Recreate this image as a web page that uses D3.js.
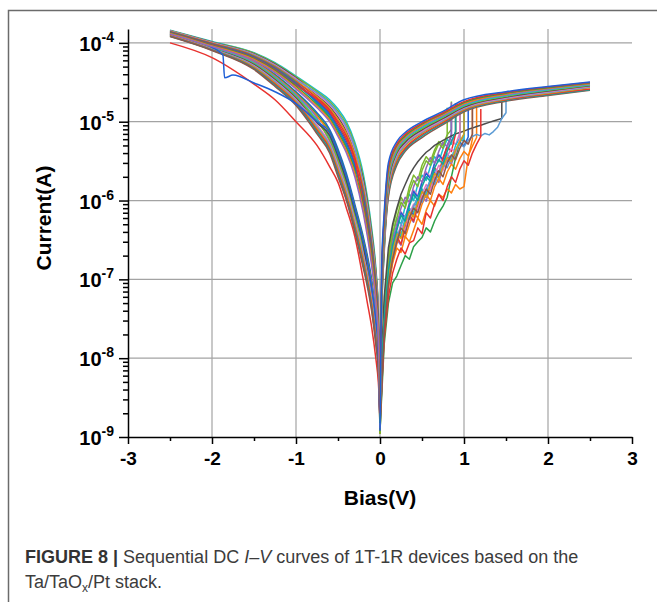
<!DOCTYPE html>
<html>
<head>
<meta charset="utf-8">
<script src="https://cdn.jsdelivr.net/npm/d3@7"></script>
<style>
  body { margin: 0; background: #fff; }
  text { font-family: "Liberation Sans", Arial, sans-serif; }
</style>
</head>
<body>
<script>
const width = 657, height = 602;

// voltage grids (V)
const vPos = [0, 0.02, 0.05, 0.1, 0.2, 0.3, 0.5, 0.75, 1, 1.5, 2, 2.5];
const vNeg = [0, -0.02, -0.05, -0.1, -0.15, -0.2, -0.3, -0.4, -0.5, -0.6, -0.75, -1, -1.25, -1.5, -2, -2.5];
const vHrs = [0, 0.05, 0.1, 0.15, 0.2, 0.25, 0.3, 0.35, 0.4, 0.45, 0.5, 0.55, 0.6, 0.65, 0.7, 0.75,
              0.8, 0.85, 0.9, 0.95, 1.0, 1.05, 1.1, 1.15, 1.2, 1.25, 1.3, 1.35, 1.4, 1.45, 1.5];

const cycleColors = ["#1f5fd6", "#e8322e", "#2ca048", "#ff7f0e", "#9467bd", "#17becf", "#7cb82f",
                     "#4d4d4d", "#e377c2", "#5b9bd5", "#d4a017", "#e8322e", "#13a39a", "#8c564b"];

// LRS, positive sweep back 2.5 V -> 0 (A), on vPos
const lrsPos = [
  [1.2e-9, 1.5e-7, 7e-7, 3.0e-6, 5.6e-6, 7.3e-6, 1.0e-5, 1.35e-5, 1.9e-5, 2.4e-5, 2.8e-5, 3.2e-5],
  [2e-9, 1.2e-7, 6e-7, 2.7e-6, 5.2e-6, 6.9e-6, 9.6e-6, 1.3e-5, 1.8e-5, 2.35e-5, 2.75e-5, 3.15e-5],
  [1.5e-9, 1.1e-7, 5.5e-7, 2.5e-6, 5.0e-6, 6.6e-6, 9.3e-6, 1.27e-5, 1.75e-5, 2.3e-5, 2.7e-5, 3.1e-5],
  [3e-9, 1e-7, 5e-7, 2.3e-6, 4.8e-6, 6.4e-6, 9.0e-6, 1.24e-5, 1.7e-5, 2.25e-5, 2.65e-5, 3.05e-5],
  [1.3e-9, 9e-8, 4.6e-7, 2.1e-6, 4.6e-6, 6.2e-6, 8.8e-6, 1.2e-5, 1.66e-5, 2.2e-5, 2.6e-5, 3.0e-5],
  [2.5e-9, 8e-8, 4.2e-7, 2.0e-6, 4.4e-6, 6.0e-6, 8.5e-6, 1.17e-5, 1.62e-5, 2.15e-5, 2.55e-5, 2.95e-5],
  [1.1e-9, 7e-8, 3.9e-7, 1.85e-6, 4.2e-6, 5.8e-6, 8.2e-6, 1.14e-5, 1.58e-5, 2.1e-5, 2.5e-5, 2.9e-5],
  [4e-9, 6.5e-8, 3.5e-7, 1.7e-6, 4.0e-6, 5.5e-6, 7.9e-6, 1.1e-5, 1.53e-5, 2.05e-5, 2.45e-5, 2.85e-5],
  [1.8e-9, 6e-8, 3.2e-7, 1.6e-6, 3.8e-6, 5.3e-6, 7.6e-6, 1.07e-5, 1.5e-5, 2.0e-5, 2.4e-5, 2.8e-5],
  [1.4e-9, 5.5e-8, 3e-7, 1.5e-6, 3.6e-6, 5.1e-6, 7.4e-6, 1.04e-5, 1.47e-5, 1.97e-5, 2.35e-5, 2.75e-5],
  [2.2e-9, 5e-8, 2.8e-7, 1.4e-6, 3.4e-6, 4.9e-6, 7.2e-6, 1.02e-5, 1.44e-5, 1.94e-5, 2.3e-5, 2.7e-5],
  [1.6e-9, 4.5e-8, 2.6e-7, 1.3e-6, 3.2e-6, 4.6e-6, 6.9e-6, 9.8e-6, 1.4e-5, 1.9e-5, 2.25e-5, 2.6e-5],
  [3.5e-9, 4e-8, 2.4e-7, 1.2e-6, 3.0e-6, 4.4e-6, 6.6e-6, 9.5e-6, 1.37e-5, 1.86e-5, 2.2e-5, 2.55e-5],
  [1.2e-9, 3.5e-8, 2.2e-7, 1.1e-6, 2.8e-6, 4.2e-6, 6.3e-6, 9.2e-6, 1.33e-5, 1.82e-5, 2.15e-5, 2.5e-5]
];

// LRS, negative sweep 0 -> -2.5 V (A), on vNeg
const lrsNeg = [
  [1.5e-9, 4e-8, 1.4e-7, 4.5e-7, 1.1e-6, 2.2e-6, 5.5e-6, 1e-5, 1.45e-5, 1.9e-5, 2.5e-5, 3.8e-5, 5.6e-5, 7.5e-5, 1.04e-4, 1.45e-4],
  [2e-9, 3.8e-8, 1.3e-7, 4.1e-7, 1e-6, 2e-6, 5.1e-6, 9.3e-6, 1.36e-5, 1.8e-5, 2.41e-5, 3.7e-5, 5.5e-5, 7.38e-5, 1.03e-4, 1.44e-4],
  [1.2e-9, 3.6e-8, 1.2e-7, 3.8e-7, 9.2e-7, 1.85e-6, 4.1e-6, 7.6e-6, 1.14e-5, 1.56e-5, 2.16e-5, 3.6e-5, 5.38e-5, 7.26e-5, 1.02e-4, 1.43e-4],
  [2e-9, 3.4e-8, 1.12e-7, 3.5e-7, 8.5e-7, 1.7e-6, 4.4e-6, 8.1e-6, 1.21e-5, 1.64e-5, 2.24e-5, 3.5e-5, 5.26e-5, 7.14e-5, 1.01e-4, 1.42e-4],
  [1.4e-9, 3.2e-8, 1.04e-7, 3.25e-7, 7.8e-7, 1.57e-6, 4.7e-6, 8.7e-6, 1.28e-5, 1.72e-5, 2.32e-5, 3.4e-5, 5.15e-5, 7.02e-5, 1e-4, 1.41e-4],
  [2.5e-9, 3.05e-8, 9.7e-8, 3e-7, 7.2e-7, 1.45e-6, 3.8e-6, 7.1e-6, 1.07e-5, 1.49e-5, 2.08e-5, 3.3e-5, 5.05e-5, 6.9e-5, 9.9e-5, 1.4e-4],
  [1.1e-9, 2.9e-8, 9e-8, 2.8e-7, 6.6e-7, 1.33e-6, 3.5e-6, 6.6e-6, 1e-5, 1.42e-5, 2e-5, 3.22e-5, 4.95e-5, 6.8e-5, 9.8e-5, 1.39e-4],
  [3e-9, 2.75e-8, 8.3e-8, 2.6e-7, 6.1e-7, 1.22e-6, 2.6e-6, 4.9e-6, 7.8e-6, 1.17e-5, 1.72e-5, 3.14e-5, 4.85e-5, 6.7e-5, 9.7e-5, 1.38e-4],
  [1.8e-9, 2.6e-8, 7.7e-8, 2.4e-7, 5.6e-7, 1.12e-6, 3e-6, 5.7e-6, 8.8e-6, 1.29e-5, 1.86e-5, 3.06e-5, 4.75e-5, 6.6e-5, 9.6e-5, 1.37e-4],
  [1.4e-9, 2.5e-8, 7.1e-8, 2.2e-7, 5.1e-7, 1.03e-6, 2.8e-6, 5.3e-6, 8.3e-6, 1.23e-5, 1.79e-5, 2.98e-5, 4.65e-5, 6.5e-5, 9.5e-5, 1.36e-4],
  [2.2e-9, 2.4e-8, 6.5e-8, 2.05e-7, 4.7e-7, 9.4e-7, 3.25e-6, 6.1e-6, 9.4e-6, 1.35e-5, 1.93e-5, 2.9e-5, 4.55e-5, 6.4e-5, 9.4e-5, 1.35e-4],
  [1.6e-9, 2.3e-8, 6e-8, 1.9e-7, 4.3e-7, 8.6e-7, 2.4e-6, 4.6e-6, 7.3e-6, 1.11e-5, 1.65e-5, 2.82e-5, 4.45e-5, 6.3e-5, 9.3e-5, 1.34e-4],
  [3.5e-9, 2.15e-8, 5.5e-8, 1.7e-7, 3.9e-7, 7.8e-7, 2.2e-6, 4.3e-6, 6.9e-6, 1.05e-5, 1.57e-5, 2.7e-5, 4.32e-5, 6.15e-5, 9.15e-5, 1.32e-4],
  [1.2e-9, 2e-8, 5e-8, 1.5e-7, 3.5e-7, 7e-7, 2e-6, 4e-6, 6.5e-6, 1e-5, 1.5e-5, 2.6e-5, 4.2e-5, 6e-5, 9e-5, 1.3e-4]
];

// HRS, negative sweep back -2.5 V -> 0 (A), on vNeg
const hrsNeg = [
  [1.5e-9, 1.5e-8, 3.5e-8, 1e-7, 2e-7, 3.5e-7, 9e-7, 2.2e-6, 4.5e-6, 8e-6, 1.3e-5, 2.4e-5, 4e-5, 6e-5, 9e-5, 1.32e-4],
  [2e-9, 5e-9, 1e-8, 2.5e-8, 5e-8, 1e-7, 3.5e-7, 8e-7, 1.7e-6, 2.7e-6, 5e-6, 1e-5, 1.9e-5, 3e-5, 6.5e-5, 1e-4],
  [1.2e-9, 1.4e-8, 3.3e-8, 9.3e-8, 1.85e-7, 3.25e-7, 8.4e-7, 2.05e-6, 4.2e-6, 7.5e-6, 1.23e-5, 2.33e-5, 3.9e-5, 5.88e-5, 8.9e-5, 1.31e-4],
  [2e-9, 1.33e-8, 3.1e-8, 8.6e-8, 1.72e-7, 3e-7, 7.9e-7, 1.92e-6, 3.9e-6, 7.1e-6, 1.17e-5, 2.26e-5, 3.8e-5, 5.76e-5, 8.8e-5, 1.3e-4],
  [1.4e-9, 1.26e-8, 2.9e-8, 8e-8, 1.6e-7, 2.25e-7, 6e-7, 1.47e-6, 3e-6, 5.6e-6, 1.11e-5, 2.19e-5, 3.7e-5, 5.64e-5, 8.7e-5, 1.29e-4],
  [2.5e-9, 1.19e-8, 2.7e-8, 7.4e-8, 1.48e-7, 2.6e-7, 6.9e-7, 1.68e-6, 3.4e-6, 6.3e-6, 1.06e-5, 2.12e-5, 3.6e-5, 5.52e-5, 8.6e-5, 1.28e-4],
  [1.1e-9, 1.12e-8, 2.5e-8, 6.9e-8, 1.38e-7, 2.4e-7, 6.4e-7, 1.57e-6, 3.2e-6, 5.9e-6, 1.01e-5, 2.05e-5, 3.5e-5, 5.4e-5, 8.5e-5, 1.27e-4],
  [3e-9, 1.05e-8, 2.35e-8, 6.4e-8, 1.28e-7, 2.8e-7, 7.4e-7, 1.8e-6, 3.65e-6, 6.7e-6, 9.6e-6, 1.98e-5, 3.4e-5, 5.28e-5, 8.45e-5, 1.26e-4],
  [1.8e-9, 9.9e-9, 2.2e-8, 5.9e-8, 1.18e-7, 2.1e-7, 5.6e-7, 1.37e-6, 2.8e-6, 5.3e-6, 9.1e-6, 1.91e-5, 3.3e-5, 5.16e-5, 8.4e-5, 1.25e-4],
  [1.4e-9, 9.3e-9, 2.05e-8, 5.5e-8, 1.1e-7, 1.95e-7, 5.2e-7, 1.28e-6, 2.6e-6, 5e-6, 8.6e-6, 1.85e-5, 3.2e-5, 5.04e-5, 8.3e-5, 1.24e-4],
  [2.2e-9, 8.7e-9, 1.9e-8, 5.1e-8, 1.02e-7, 1.8e-7, 4.9e-7, 1.2e-6, 2.45e-6, 4.75e-6, 8.2e-6, 1.79e-5, 3.1e-5, 4.92e-5, 8.2e-5, 1.23e-4],
  [1.6e-9, 8.1e-9, 1.75e-8, 4.7e-8, 9.4e-8, 1.65e-7, 4.6e-7, 1.12e-6, 2.3e-6, 4.5e-6, 7.8e-6, 1.73e-5, 3e-5, 4.8e-5, 8.15e-5, 1.22e-4],
  [3.5e-9, 7.5e-9, 1.6e-8, 4.3e-8, 8.7e-8, 1.52e-7, 4.3e-7, 1.05e-6, 2.15e-6, 4.25e-6, 7.4e-6, 1.66e-5, 2.9e-5, 4.7e-5, 8.1e-5, 1.21e-4],
  [1.2e-9, 7e-9, 1.5e-8, 4e-8, 8e-8, 1.4e-7, 4e-7, 1e-6, 2e-6, 4e-6, 7e-6, 1.6e-5, 2.8e-5, 4.6e-5, 8e-5, 1.2e-4]
];

// HRS, positive sweep 0 -> set (A), on vHrs up to the set point
const hrsPos = [
  [2e-9, 4e-8, 1.6e-7, 3.2e-7, 4.5e-7, 7e-7, 6e-7, 9e-7, 1.3e-6, 1.1e-6, 1.7e-6, 2.2e-6, 1.9e-6, 3e-6, 3.8e-6, 3.3e-6, 5e-6, 6.5e-6],
  [1.5e-9, 3e-8, 1.2e-7, 2.2e-7, 3.5e-7, 2.8e-7, 4.6e-7, 6.5e-7, 5.5e-7, 9e-7, 1.3e-6, 1.1e-6, 1.8e-6, 2.6e-6, 2.2e-6, 3.5e-6, 4.8e-6, 4.2e-6, 7e-6],
  [1.2e-9, 1.5e-8, 5e-8, 9e-8, 1.1e-7, 1.5e-7, 2e-7, 1.8e-7, 2.6e-7, 3e-7, 3.4e-7, 4.5e-7, 4e-7, 5.5e-7, 7e-7, 8.5e-7, 1.1e-6, 2e-6, 3.5e-6, 5.5e-6],
  [2e-9, 2e-8, 8e-8, 1.6e-7, 2.5e-7, 2.2e-7, 3.5e-7, 3e-7, 4.2e-7, 6e-7, 5e-7, 7.5e-7, 1e-6, 8.5e-7, 1.2e-6, 1.1e-6, 1.4e-6, 1.25e-6, 1.6e-6, 1.4e-6, 1.5e-6, 3.5e-6, 6e-6],
  [1.4e-9, 3.5e-8, 1.4e-7, 3e-7, 5e-7, 8e-7, 1.1e-6, 9.5e-7, 1.5e-6, 2e-6, 1.7e-6, 2.6e-6, 3.5e-6, 3e-6, 4.2e-6, 5.5e-6, 4.8e-6, 7e-6],
  [2.5e-9, 3e-8, 1.1e-7, 2.5e-7, 4e-7, 3.6e-7, 6e-7, 8e-7, 7e-7, 1.1e-6, 1.4e-6, 1.2e-6, 1.9e-6, 2.5e-6, 2.1e-6, 3e-6, 3.9e-6, 3.4e-6, 5e-6, 6.2e-6, 5.6e-6],
  [1.1e-9, 4e-8, 1.8e-7, 3.8e-7, 6e-7, 9.5e-7, 8e-7, 1.3e-6, 1.8e-6, 1.5e-6, 2.4e-6, 3.2e-6, 2.8e-6, 4e-6, 5.3e-6, 4.6e-6, 6.8e-6],
  [3e-9, 6e-8, 2.5e-7, 5e-7, 8e-7, 1.2e-6, 1.6e-6, 2.1e-6, 2.6e-6, 3.1e-6, 3.6e-6, 4.1e-6, 4.5e-6, 5e-6, 5.4e-6, 5.8e-6, 6.2e-6, 6.6e-6, 7e-6, 7.3e-6, 7.6e-6, 8e-6, 8.3e-6, 8.7e-6, 9e-6, 9.4e-6, 9.8e-6, 1.02e-5, 1.06e-5, 1.1e-5],
  [1.8e-9, 2.5e-8, 9e-8, 2e-7, 3.3e-7, 5e-7, 4.2e-7, 6.8e-7, 9e-7, 7.8e-7, 1.2e-6, 1.6e-6, 1.35e-6, 2.1e-6, 2.8e-6, 2.4e-6, 3.6e-6, 4.6e-6, 4e-6, 6e-6],
  [1.4e-9, 2.5e-8, 1e-7, 2e-7, 3.2e-7, 4.8e-7, 6.5e-7, 5.8e-7, 8.5e-7, 1.1e-6, 9.5e-7, 1.4e-6, 1.8e-6, 1.6e-6, 2.3e-6, 2.9e-6, 2.6e-6, 3.5e-6, 4.3e-6, 5.2e-6, 4.8e-6, 5.8e-6, 6.5e-6, 6.9e-6, 6.6e-6, 7.1e-6, 6.8e-6, 7.5e-6, 8.5e-6, 1.1e-5, 1.3e-5],
  [2.2e-9, 2.8e-8, 1e-7, 2.3e-7, 3.8e-7, 3.3e-7, 5.2e-7, 7.2e-7, 6.2e-7, 9.5e-7, 1.3e-6, 1.1e-6, 1.6e-6, 2.2e-6, 1.9e-6, 2.7e-6, 3.5e-6, 3.1e-6, 4.4e-6, 5.6e-6, 7e-6],
  [1.6e-9, 1.8e-8, 6e-8, 1.2e-7, 1.8e-7, 2.5e-7, 2.1e-7, 2.9e-7, 3.1e-7, 4.5e-7, 3.8e-7, 7e-7, 6e-7, 9e-7, 1.2e-6, 1e-6, 1.5e-6, 2e-6, 1.7e-6, 2.5e-6, 3.2e-6, 2.8e-6, 4e-6, 5.2e-6, 6.5e-6],
  [3.5e-9, 3.2e-8, 1.3e-7, 2.7e-7, 4.2e-7, 6.5e-7, 5.5e-7, 8.5e-7, 1.2e-6, 1e-6, 1.5e-6, 2e-6, 1.75e-6, 2.6e-6, 3.3e-6, 2.9e-6, 4.2e-6, 5.6e-6, 7.5e-6],
  [1.2e-9, 2.2e-8, 8.5e-8, 1.8e-7, 3e-7, 4.5e-7, 3.8e-7, 6e-7, 8e-7, 7e-7, 1.05e-6, 1.4e-6, 1.2e-6, 1.8e-6, 2.4e-6, 2e-6, 3e-6, 3.8e-6, 3.3e-6, 4.6e-6, 5.8e-6, 5.2e-6, 7e-6]
];
// current right after the set jump (A), at the last vHrs point of each cycle
const setJump = [1.6e-5, 1.7e-5, 1.55e-5, 1.5e-5, 1.75e-5, 1.65e-5, 1.5e-5, 1.9e-5, 1.6e-5, 2e-5, 1.6e-5, 1.45e-5, 1.7e-5, 1.55e-5];

// further set sweeps (A), on vHrs
const hrsPosMore = [
  [2e-9, 3.5e-8, 1.5e-7, 3.5e-7, 6e-7, 5e-7, 8.5e-7, 1.2e-6, 1e-6, 1.6e-6, 2.1e-6, 1.8e-6, 2.7e-6, 3.6e-6, 3.1e-6, 4.5e-6, 6e-6, 5.2e-6, 7.5e-6],
  [1.5e-9, 4.5e-8, 2e-7, 4.5e-7, 7.5e-7, 1.1e-6, 9e-7, 1.5e-6, 2.1e-6, 1.8e-6, 2.8e-6, 3.6e-6, 3.1e-6, 4.4e-6, 5.6e-6, 5e-6, 6.8e-6, 8e-6],
  [1.3e-9, 2.5e-8, 9e-8, 2e-7, 3.2e-7, 2.7e-7, 4.5e-7, 6.2e-7, 5.3e-7, 8.2e-7, 1.15e-6, 9.8e-7, 1.5e-6, 2e-6, 1.7e-6, 2.6e-6, 3.3e-6, 2.9e-6, 4.1e-6, 5.4e-6, 6.8e-6],
  [2e-9, 2.2e-8, 8e-8, 1.7e-7, 2.8e-7, 4e-7, 3.4e-7, 5e-7, 7e-7, 6e-7, 9e-7, 1.2e-6, 1e-6, 1.5e-6, 1.9e-6, 1.6e-6, 2.3e-6, 2.9e-6, 2.5e-6, 3.4e-6, 4.2e-6, 3.7e-6, 4.9e-6, 6.3e-6],
  [1.8e-9, 3e-8, 1.3e-7, 2.8e-7, 4.6e-7, 7.2e-7, 6.1e-7, 9.5e-7, 1.35e-6, 1.15e-6, 1.75e-6, 2.3e-6, 2e-6, 2.9e-6, 3.7e-6, 3.2e-6, 4.6e-6, 5.9e-6, 5.1e-6, 7.2e-6],
  [1.5e-9, 2.8e-8, 1.1e-7, 2.4e-7, 3.9e-7, 3.4e-7, 5.5e-7, 7.6e-7, 6.6e-7, 1e-6, 1.35e-6, 1.15e-6, 1.7e-6, 2.3e-6, 2e-6, 2.8e-6, 3.6e-6, 3.2e-6, 4.3e-6, 5.5e-6, 4.9e-6, 6.4e-6]
];
const setJumpMore = [1.7e-5, 1.8e-5, 1.6e-5, 1.5e-5, 1.65e-5, 1.55e-5];
const moreColors = ["#17becf", "#7cb82f", "#9467bd", "#ff7f0e", "#e377c2", "#1f5fd6"];

// one negative sweep with an abrupt step near -1.85 V
const stepV = [-2.5, -2.2, -2.0, -1.87, -1.85, -1.75, -1.5, -1.25, -1.0, -0.75, -0.6, -0.5, -0.4, -0.3, -0.2, -0.15, -0.1, -0.05, -0.02, 0];
const stepI = [1.3e-4, 1.1e-4, 8.8e-5, 7e-5, 3.6e-5, 3.9e-5, 3.1e-5, 2.4e-5, 1.7e-5, 1e-5, 7.3e-6, 4e-6, 2e-6, 8e-7, 3e-7, 1.7e-7, 8e-8, 3e-8, 1.2e-8, 1.5e-9];

// axes
const xTicks = [-3, -2, -1, 0, 1, 2, 3];
const xMinor = [-2.5, -1.5, -0.5, 0.5, 1.5, 2.5];
const xGrid = [-2, -1, 0, 1, 2];
const yTicks = [1e-9, 1e-8, 1e-7, 1e-6, 1e-5, 1e-4];
const yTickExp = ["-9", "-8", "-7", "-6", "-5", "-4"];

const svg = d3.select("body").append("svg").attr("width", width).attr("height", height);
svg.append("rect").attr("width", width).attr("height", height).attr("fill", "#fff");

// figure frame
svg.append("path").attr("d", "M8.5,602V10.5H657").attr("fill", "none")
  .attr("stroke", "#6b6b6b").attr("stroke-width", 1.5);

const x = d3.scaleLinear().domain([-3, 3]).range([128, 632]);
const y = d3.scaleLog().domain([1e-9, 1.5e-4]).range([437, 29]);

// grid
svg.append("g").selectAll("line").data(yTicks.slice(1)).enter().append("line")
  .attr("x1", 128).attr("x2", 632).attr("y1", d => y(d)).attr("y2", d => y(d))
  .attr("stroke", "#a3a3a3").attr("stroke-width", 1.2);
svg.append("g").selectAll("line").data(xGrid).enter().append("line")
  .attr("x1", d => x(d)).attr("x2", d => x(d)).attr("y1", 29).attr("y2", 437)
  .attr("stroke", "#a3a3a3").attr("stroke-width", 1.2);

// curves
const smooth = d3.line().x(d => x(d[0])).y(d => y(d[1])).curve(d3.curveMonotoneX);
const jagged = d3.line().x(d => x(d[0])).y(d => y(d[1]));
const plot = svg.append("g").attr("fill", "none").attr("stroke-width", 1.5).attr("stroke-linejoin", "round");

const zipNeg = arr => vNeg.map((v, i) => [v, arr[i]]).reverse();
const zipPos = arr => vPos.map((v, i) => [v, arr[i]]);
const setPath = (c, jump) => {
  const pts = c.map((v, k) => [vHrs[k], v]);
  pts.push([vHrs[c.length - 1], jump]);
  return jagged(pts);
};

hrsNeg.forEach((c, i) => plot.append("path").attr("d", smooth(zipNeg(c))).attr("stroke", cycleColors[i]));
plot.append("path").attr("d", smooth(stepV.map((v, i) => [v, stepI[i]]))).attr("stroke", "#1f5fd6");
lrsNeg.forEach((c, i) => plot.append("path").attr("d", smooth(zipNeg(c))).attr("stroke", cycleColors[(i + 5) % 14]));
hrsPosMore.forEach((c, i) => plot.append("path").attr("d", setPath(c, setJumpMore[i])).attr("stroke", moreColors[i]));
hrsPos.forEach((c, i) => plot.append("path").attr("d", setPath(c, setJump[i])).attr("stroke", cycleColors[i]));
lrsPos.slice().reverse().forEach((c, j) => {
  const i = lrsPos.length - 1 - j;
  plot.append("path").attr("d", smooth(zipPos(c))).attr("stroke", cycleColors[i]);
});

// axes
const xAxis = svg.append("g").attr("transform", "translate(0,437)")
  .call(d3.axisBottom(x).tickValues(xTicks).tickSize(7).tickSizeOuter(0).tickPadding(8).tickFormat(d => String(d)));
svg.append("g").attr("transform", "translate(0,437)")
  .call(d3.axisBottom(x).tickValues(xMinor).tickSize(4).tickSizeOuter(0).tickFormat(""))
  .select(".domain").remove();
xAxis.selectAll("text").attr("font-size", 19).attr("font-weight", "bold").attr("fill", "#000");

const minor = [];
for (const d of yTicks.slice(0, -1)) for (let m = 2; m <= 9; m++) minor.push(d * m);
svg.append("g").attr("transform", "translate(128,0)")
  .call(d3.axisLeft(y).tickValues(yTicks).tickSize(9).tickSizeOuter(0).tickFormat(""));
svg.append("g").attr("transform", "translate(128,0)")
  .call(d3.axisLeft(y).tickValues(minor).tickSize(5).tickSizeOuter(0).tickFormat(""))
  .select(".domain").remove();
svg.selectAll(".domain, .tick line").attr("stroke", "#000").attr("stroke-width", 1.5);

const yLab = svg.append("g").selectAll("text").data(yTicks).enter().append("text")
  .attr("x", 114).attr("y", d => y(d) + 8).attr("text-anchor", "end")
  .attr("font-weight", "bold").attr("fill", "#000");
yLab.append("tspan").attr("font-size", 20).text("10");
yLab.append("tspan").attr("font-size", 14).attr("dy", -9).text((d, i) => yTickExp[i]);

svg.append("text").attr("transform", "translate(51,218) rotate(-90)").attr("text-anchor", "middle")
  .attr("font-size", 21).attr("font-weight", "bold").text("Current(A)");
svg.append("text").attr("x", 380).attr("y", 505).attr("text-anchor", "middle")
  .attr("font-size", 21).attr("font-weight", "bold").text("Bias(V)");

// caption
const cap1 = svg.append("text").attr("x", 25).attr("y", 563).attr("font-size", 18).attr("fill", "#3c3c3c");
cap1.append("tspan").attr("font-weight", "bold").attr("fill", "#333").text("FIGURE 8 | ");
cap1.append("tspan").text("Sequential DC ");
cap1.append("tspan").attr("font-style", "italic").text("I–V");
cap1.append("tspan").text(" curves of 1T-1R devices based on the");
const cap2 = svg.append("text").attr("x", 25).attr("y", 588).attr("font-size", 18).attr("fill", "#3c3c3c");
cap2.append("tspan").text("Ta/TaO");
cap2.append("tspan").attr("font-size", 12).attr("dy", 4).text("x");
cap2.append("tspan").attr("dy", -4).text("/Pt stack.");
</script>
</body>
</html>
